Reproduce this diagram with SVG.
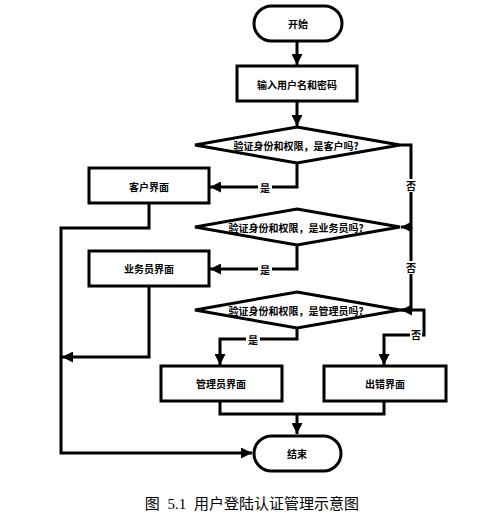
<svg xmlns="http://www.w3.org/2000/svg" width="481" height="519" viewBox="0 0 481 519">
<style>
.shape{fill:#fff;stroke:#000;stroke-width:3}
.line{fill:none;stroke:#000;stroke-width:3}
.t{font-family:"Noto Sans CJK SC","Liberation Sans",sans-serif;font-size:10px;font-weight:bold;text-anchor:middle;dominant-baseline:central;fill:#000}
.d{font-family:"Noto Sans CJK SC","Liberation Serif",serif;font-size:10px;font-weight:600;text-anchor:middle;dominant-baseline:central;fill:#000}
.lbl{font-family:"Noto Sans CJK SC","Liberation Sans",sans-serif;font-size:10px;font-weight:bold;text-anchor:middle;dominant-baseline:central;fill:#000}
.cap{font-family:"Liberation Serif","Noto Sans CJK SC",serif;font-size:15px;text-anchor:middle;dominant-baseline:central;fill:#000;word-spacing:4px}
</style>
<defs>
<marker id="arr" markerUnits="userSpaceOnUse" markerWidth="11" markerHeight="11" refX="10" refY="5" orient="auto" viewBox="0 0 10 10">
<path d="M0,0 L10,5 L0,10 z" fill="#000"/>
</marker>
</defs>
<rect width="481" height="519" fill="#fff"/>
<g id="connectors">
<path class="line" d="M297,41 V65" marker-end="url(#arr)"/>
<path class="line" d="M297,101 V126" marker-end="url(#arr)"/>
<path class="line" d="M297,163 V187 H210" marker-end="url(#arr)"/>
<path class="line" d="M400,145 H411 V227 H401" marker-end="url(#arr)"/>
<path class="line" d="M297,245 V269 H210" marker-end="url(#arr)"/>
<path class="line" d="M411,227 V310 H401" marker-end="url(#arr)"/>
<path class="line" d="M297,328 V339 H220 V365" marker-end="url(#arr)"/>
<path class="line" d="M400,310 H424 V335 H384 V365" marker-end="url(#arr)"/>
<path class="line" d="M149,203 V228 H61 V453 H252" marker-end="url(#arr)"/>
<path class="line" d="M149,286 V357 H62" marker-end="url(#arr)"/>
<path class="line" d="M220,401 V414 H384 V401 M297,414 V434" marker-end="url(#arr)"/>
<rect x="258" y="181" width="14" height="12" fill="#fff"/>
<text class="lbl" x="265" y="187">是</text>
<rect x="405" y="179" width="12" height="13" fill="#fff"/>
<text class="lbl" x="411" y="185">否</text>
<rect x="258" y="263" width="14" height="12" fill="#fff"/>
<text class="lbl" x="265" y="269">是</text>
<rect x="405" y="261" width="12" height="13" fill="#fff"/>
<text class="lbl" x="411" y="267">否</text>
<rect x="246" y="333" width="14" height="12" fill="#fff"/>
<text class="lbl" x="253" y="339">是</text>
<rect x="410" y="328" width="12" height="13" fill="#fff"/>
<text class="lbl" x="416" y="334">否</text>
</g>
<g id="start">
<rect class="shape" x="254" y="6" width="88" height="35" rx="17.5"/>
<text class="t" x="298" y="23">开始</text>
</g>
<g id="input">
<rect class="shape" x="237" y="66" width="120" height="35"/>
<text class="t" x="297" y="84">输入用户名和密码</text>
</g>
<g id="dec1">
<polygon class="shape" points="297,127 400,145 297,163 195,145"/>
<text class="d" x="296" y="145">验证身份和权限，是客户吗?</text>
</g>
<g id="customer">
<rect class="shape" x="89" y="168" width="120" height="35"/>
<text class="t" x="149" y="186">客户界面</text>
</g>
<g id="dec2">
<polygon class="shape" points="297,209 400,227 297,245 195,227"/>
<text class="d" x="296" y="227">验证身份和权限，是业务员吗?</text>
</g>
<g id="sales">
<rect class="shape" x="89" y="251" width="120" height="35"/>
<text class="t" x="149" y="268">业务员界面</text>
</g>
<g id="dec3">
<polygon class="shape" points="297,292 400,310 297,328 195,310"/>
<text class="d" x="296" y="310">验证身份和权限，是管理员吗?</text>
</g>
<g id="admin">
<rect class="shape" x="161" y="366" width="121" height="35"/>
<text class="t" x="221" y="383">管理员界面</text>
</g>
<g id="error">
<rect class="shape" x="324" y="366" width="122" height="35"/>
<text class="t" x="385" y="383">出错界面</text>
</g>
<g id="end">
<rect class="shape" x="254" y="436" width="87" height="35" rx="17.5"/>
<text class="t" x="297" y="453">结束</text>
</g>
<text class="cap" x="252" y="504">图 5.1 用户登陆认证管理示意图</text>
</svg>
